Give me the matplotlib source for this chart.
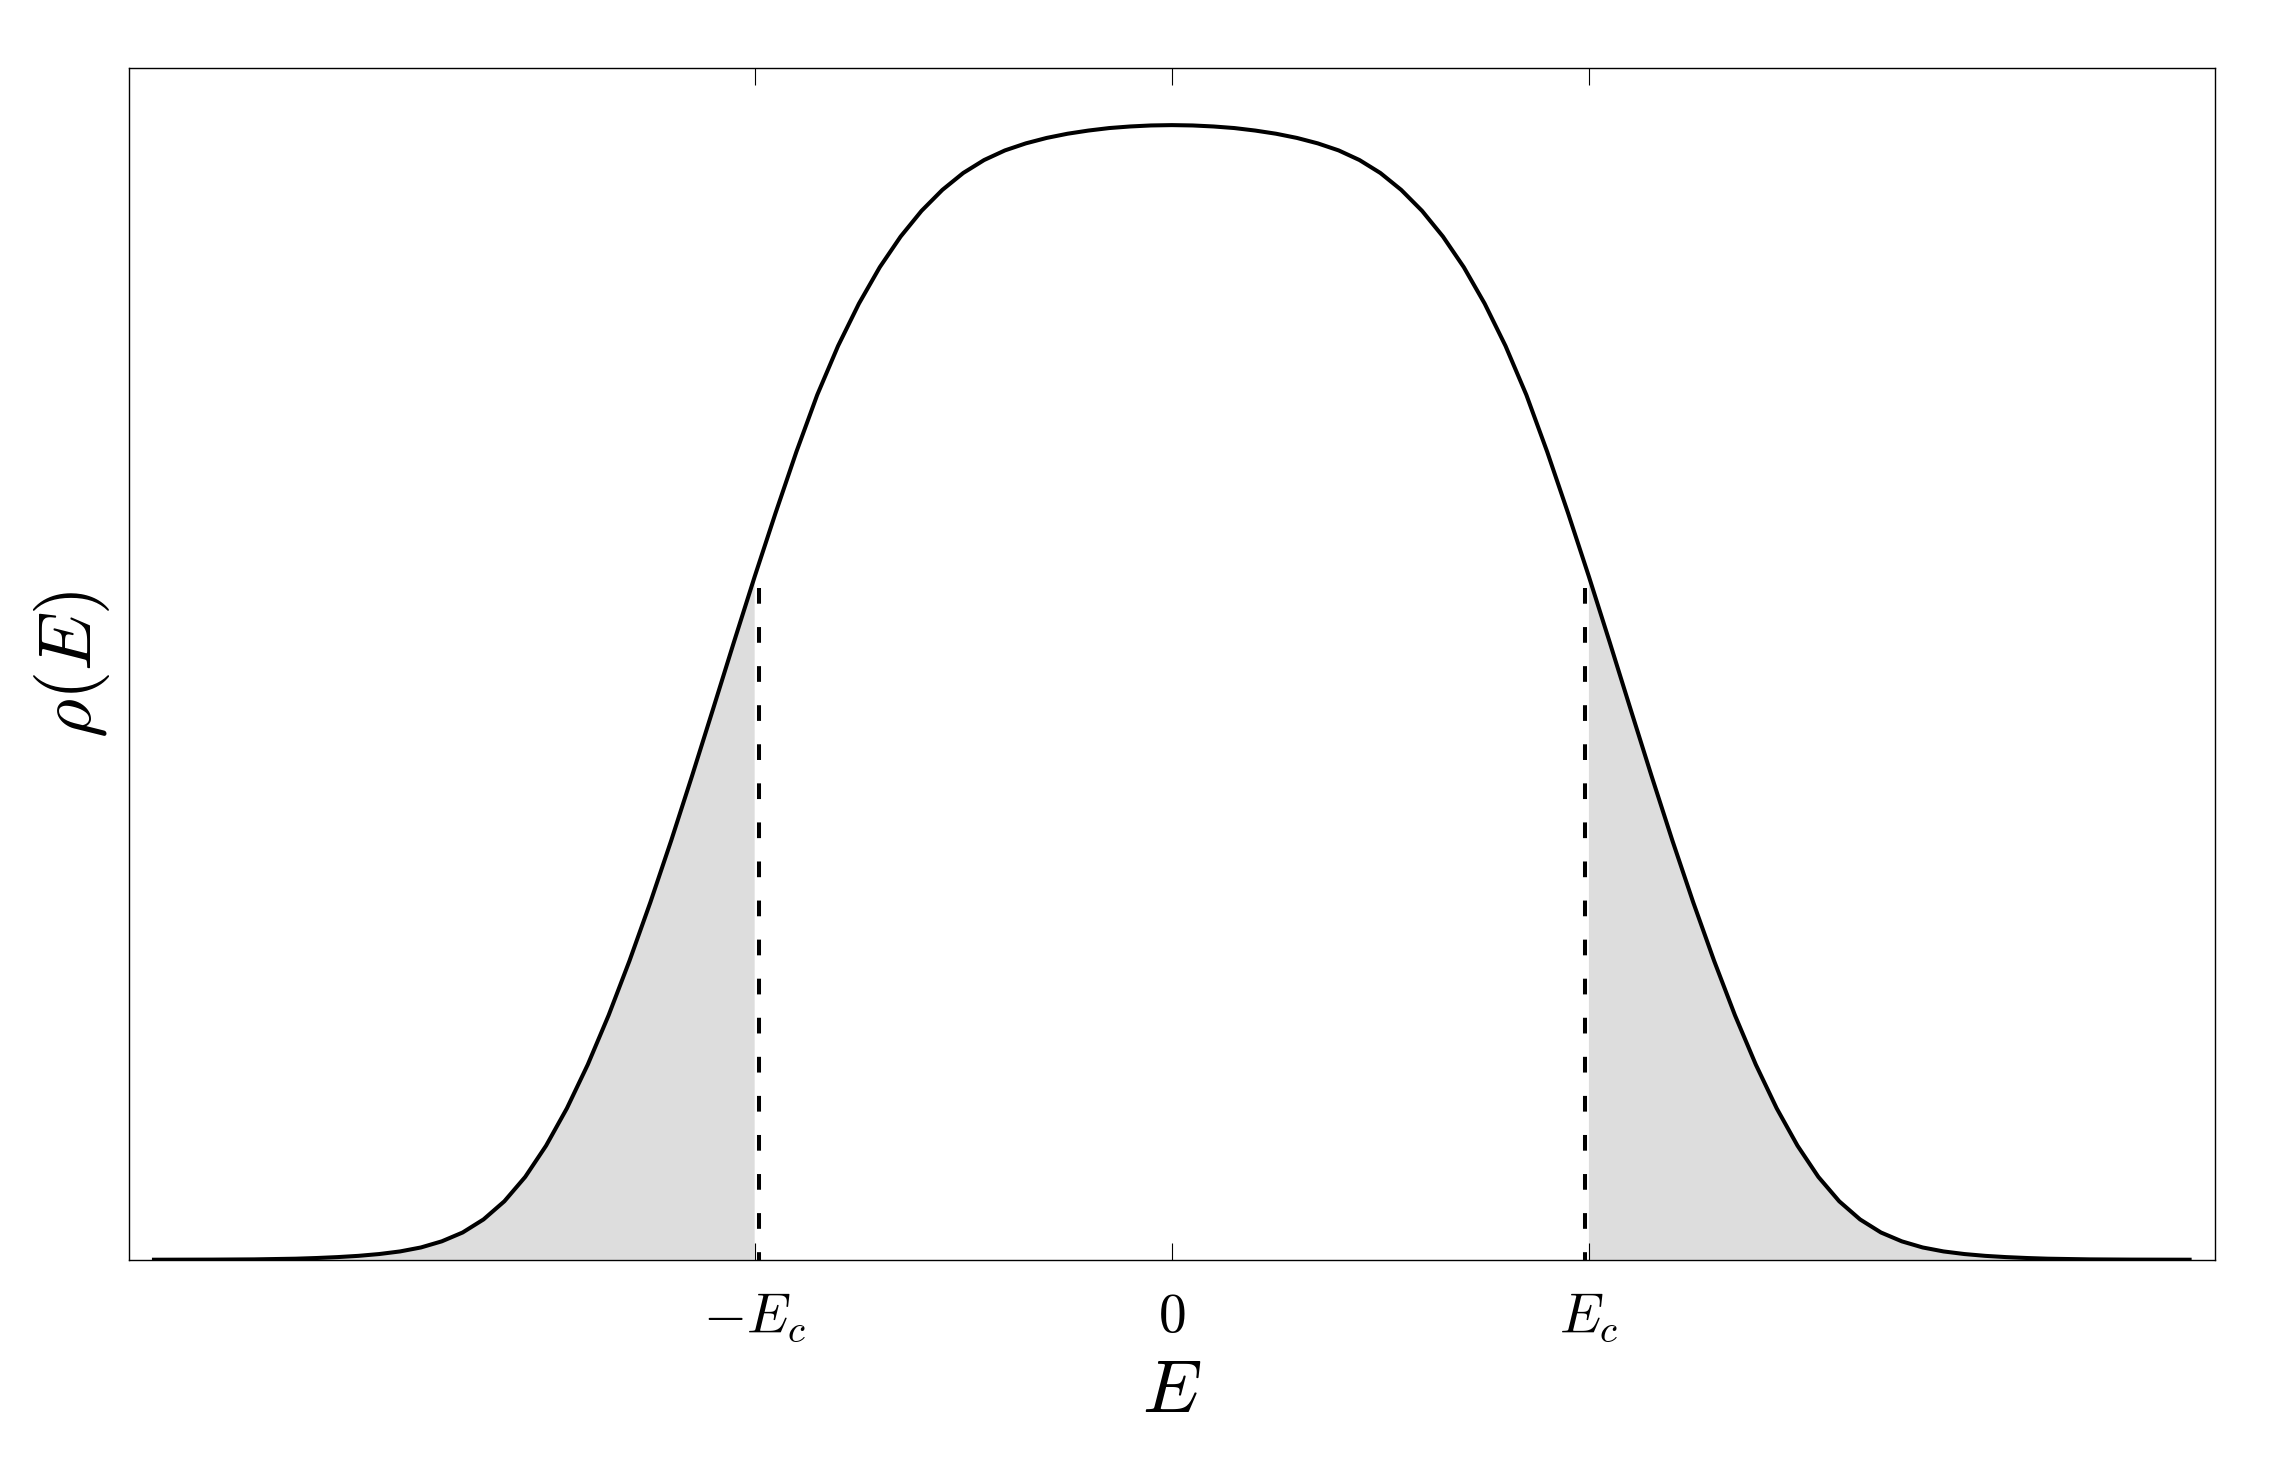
import numpy as np
import matplotlib
matplotlib.use("Agg")
import matplotlib.pyplot as plt

plt.rcParams['mathtext.fontset'] = 'cm'
plt.rcParams['font.family'] = 'DejaVu Sans'

# density of states (E in units of E_c, rho normalised to peak)
# curve is symmetric, so only the E >= 0 half is listed
E_half = [0.00, 0.05, 0.10, 0.15, 0.20, 0.25, 0.30, 0.35, 0.40, 0.45,
          0.50, 0.55, 0.60, 0.65, 0.70, 0.75, 0.80, 0.85, 0.90, 0.95,
          1.00, 1.05, 1.10, 1.15, 1.20, 1.25, 1.30, 1.35, 1.40, 1.45,
          1.50, 1.55, 1.60, 1.65, 1.70, 1.75, 1.80, 1.85, 1.90, 1.95,
          2.00, 2.05, 2.10, 2.20, 2.30, 2.44]
rho_half = [1.000, 0.9997, 0.9988, 0.9974, 0.9952, 0.9924, 0.9887, 0.9839, 0.9777, 0.9692,
            0.9578, 0.9429, 0.9244, 0.9018, 0.8748, 0.8427, 0.8054, 0.7622, 0.712, 0.658,
            0.602, 0.544, 0.485, 0.4265, 0.3695, 0.315, 0.2635, 0.2155, 0.172, 0.1335,
            0.1005, 0.073, 0.0515, 0.0355, 0.024, 0.0162, 0.0108, 0.0073, 0.0050, 0.0034,
            0.0023, 0.0015, 0.0009, 0.0003, 0.0001, 0.0]

E_c = 1.0
dash_x = 0.99
dash_top = 0.592
tick_pos = [-E_c, 0, E_c]
tick_labels = [r'$-E_c$', r'$0$', r'$E_c$']

E = np.concatenate([-np.array(E_half[::-1]), np.array(E_half[1:])])
rho = np.concatenate([np.array(rho_half[::-1]), np.array(rho_half[1:])])

fig = plt.figure(figsize=(11.37, 7.29), dpi=200)
ax = fig.add_axes([0.0567, 0.136, 0.9172, 0.8171])

ax.fill_between(E, 0, rho, where=np.abs(E) >= E_c, color='#dddddd', lw=0)
ax.plot(E, rho, color='black', lw=1.45, solid_joinstyle='round')
for x in (-dash_x, dash_x):
    ax.plot([x, x], [dash_top, 0], color='black', lw=1.45, dashes=(3.9, 5.8))

ax.set_xlim(-2.5, 2.5)
ax.set_ylim(0, 1.05)
ax.set_xticks(tick_pos)
ax.set_xticklabels(tick_labels, fontsize=20)
ax.set_yticks([])
ax.tick_params(axis='x', direction='in', top=True, length=6, width=0.4, pad=11, color='black')
for s in ax.spines.values():
    s.set_linewidth(0.5)
    s.set_color('black')

ax.set_xlabel(r'$E$', fontsize=27, labelpad=4)
ax.set_ylabel(r'$\rho(E)$', fontsize=27, labelpad=6)

fig.savefig('out.png', dpi=200)
